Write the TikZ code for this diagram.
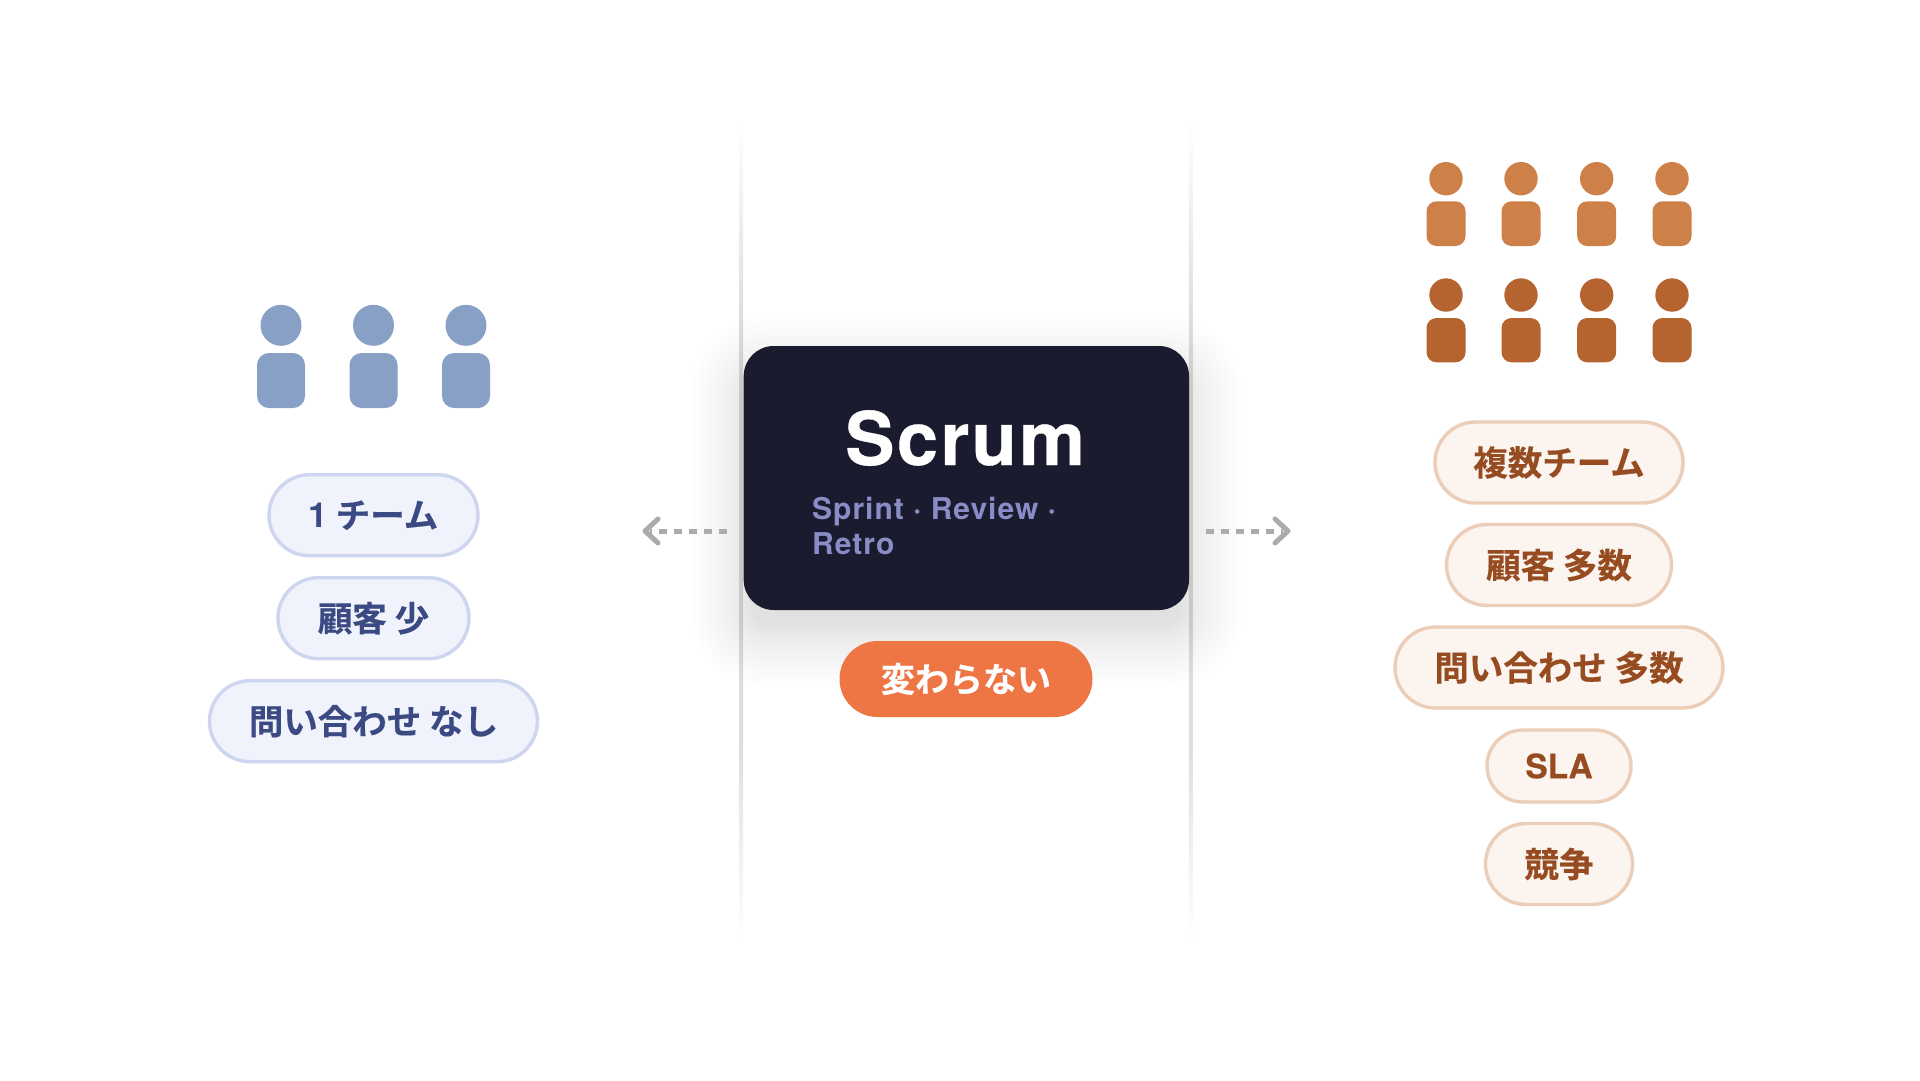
\documentclass[tikz,border=0pt]{standalone}
\usepackage{fontspec}
\setmainfont{TeX Gyre Heros}
\newfontfamily\cjk{Noto Sans CJK JP}[BoldFont={Noto Sans CJK JP Bold},BoldFeatures={FakeBold=0.4}]
\newfontfamily\heros{TeX Gyre Heros}[BoldFont={TeX Gyre Heros Bold}]
\definecolor{leftfill}{HTML}{F0F3FC}
\definecolor{leftline}{HTML}{CDD5EF}
\definecolor{lefttext}{HTML}{3B4A82}
\definecolor{rightfill}{HTML}{FBF4EF}
\definecolor{rightline}{HTML}{EBCDB8}
\definecolor{righttext}{HTML}{964C20}
\definecolor{personblue}{HTML}{88A0C6}
\definecolor{personlight}{HTML}{CE8049}
\definecolor{persondark}{HTML}{B5632F}
\definecolor{cardnavy}{HTML}{1A1B2E}
\definecolor{cardsub}{HTML}{8A8CC6}
\definecolor{accent}{HTML}{EE7645}
\definecolor{sepgray}{HTML}{DEDEDE}
\definecolor{arrowgray}{HTML}{ABABAB}
\pgfdeclareverticalshading{sepfade}{100bp}{color(0bp)=(white); color(25bp)=(white); color(37bp)=(sepgray); color(63bp)=(sepgray); color(75bp)=(white); color(100bp)=(white)}
\tikzset{
  x=1pt,y=-1pt,
  pillbase/.style={draw,line width=3.4pt,rounded corners=40.5pt,minimum height=81pt,inner sep=0pt,
    font=\cjk\bfseries\fontsize{34.5}{40}\selectfont},
  leftpill/.style={pillbase,fill=leftfill,draw=leftline,text=lefttext},
  rightpill/.style={pillbase,fill=rightfill,draw=rightline,text=righttext},
  flowarrow/.style={draw=arrowgray,line width=5pt,dash pattern=on 8pt off 7pt},
  arrowhook/.style={draw=arrowgray,line width=5pt,line join=round,line cap=round},
  sepline/.style={shading=sepfade},
  subtitle/.style={anchor=base west,inner sep=0pt,text=cardsub,font=\heros\bfseries\fontsize{30}{35}\selectfont},
}
% person icon: #1 x, #2 head y, #3 radius, #4 half body width, #5 body top, #6 body bottom, #7 corner, #8 colour
\newcommand{\personicon}[8]{%
  \fill[#8] (#1,#2) circle[radius=#3];
  \fill[#8,rounded corners=#7pt] (#1-#4,#5) rectangle (#1+#4,#6);
}
\begin{document}
\begin{tikzpicture}
\useasboundingbox (0,0) rectangle (1920,1080);
\fill[white] (0,0) rectangle (1920,1080);

% separators
\shade[sepline] (739.7,120) rectangle (743.2,940);
\shade[sepline] (1188.8,120) rectangle (1192.3,940);

% shadow of the card
\foreach \g in {1,...,30}{
  \pgfmathsetmacro{\sp}{62*pow((31-\g)/30,1.5)-8}
  \pgfmathsetmacro{\rc}{max(26+\sp,4)}
  \fill[black,fill opacity=0.0042,rounded corners=\rc pt]
    ({743.7-\sp},{370-\sp}) rectangle ({1189+\sp},{634+\sp});
}

% card
\node[fill=cardnavy,rounded corners=30pt,minimum width=445.3pt,minimum height=264pt,inner sep=0pt] (card) at (966.35,478) {};
\node[anchor=base west,inner sep=0pt,text=white,font=\heros\bfseries\fontsize{74}{74}\selectfont] (title) at (845,465) {\addfontfeature{LetterSpace=3.2,FakeBold=0.5}Scrum};
\node[subtitle] (sub1) at (812,519.3) {\addfontfeature{LetterSpace=3.3}Sprint · Review ·};
\node[subtitle] (sub2) at (812,554.3) {\addfontfeature{LetterSpace=3.3}Retro};

% orange pill
\node[fill=accent,rounded corners=38pt,minimum width=253pt,minimum height=76pt,inner sep=0pt,text=white,font=\cjk\bfseries\fontsize{34}{38}\selectfont] (same) at (966,679) {変わらない};

% arrows
\coordinate (ltail) at (727,531);
\coordinate (lend) at (650,531);
\coordinate (ltip) at (645,531);
\coordinate (rtail) at (1206,531);
\coordinate (rend) at (1283,531);
\coordinate (rtip) at (1288,531);
\draw[flowarrow] (ltail) -- (lend);
\draw[flowarrow] (rtail) -- (rend);
\draw[arrowhook] ([shift={(13,-12)}]ltip) -- (ltip) -- ([shift={(13,12)}]ltip);
\draw[arrowhook] ([shift={(-13,-12)}]rtip) -- (rtip) -- ([shift={(-13,12)}]rtip);

% left people
\foreach \x in {281,373.5,466}{\personicon{\x}{325.3}{20.5}{24}{353}{408}{12}{personblue}}
% right people
\foreach \x in {1446,1521,1596.7,1672}{
  \personicon{\x}{178.7}{16.7}{19.5}{201.3}{246}{10}{personlight}
  \personicon{\x}{295}{16.7}{19.5}{318}{362.3}{10}{persondark}
}

% left pills
\node[leftpill,minimum width=209pt] (l1) at (373.5,515.2) {{\heros\bfseries 1} チーム};
\node[leftpill,minimum width=191pt] (l2) at (373.5,618.2) {顧客 少};
\node[leftpill,minimum width=328pt] (l3) at (373.5,721.2) {問い合わせ なし};
% right pills
\node[rightpill,minimum width=248pt] (r1) at (1559,462.5) {複数チーム};
\node[rightpill,minimum width=225pt] (r2) at (1559,565) {顧客 多数};
\node[rightpill,minimum width=328pt] (r3) at (1559,667.5) {問い合わせ 多数};
\node[rightpill,minimum width=144pt,minimum height=72pt,rounded corners=36pt] (r4) at (1559,766) {\heros\bfseries\fontsize{33.5}{40}\selectfont\addfontfeature{FakeBold=0.5}SLA};
\node[rightpill,minimum width=147pt] (r5) at (1559,864) {競争};
\end{tikzpicture}
\end{document}
